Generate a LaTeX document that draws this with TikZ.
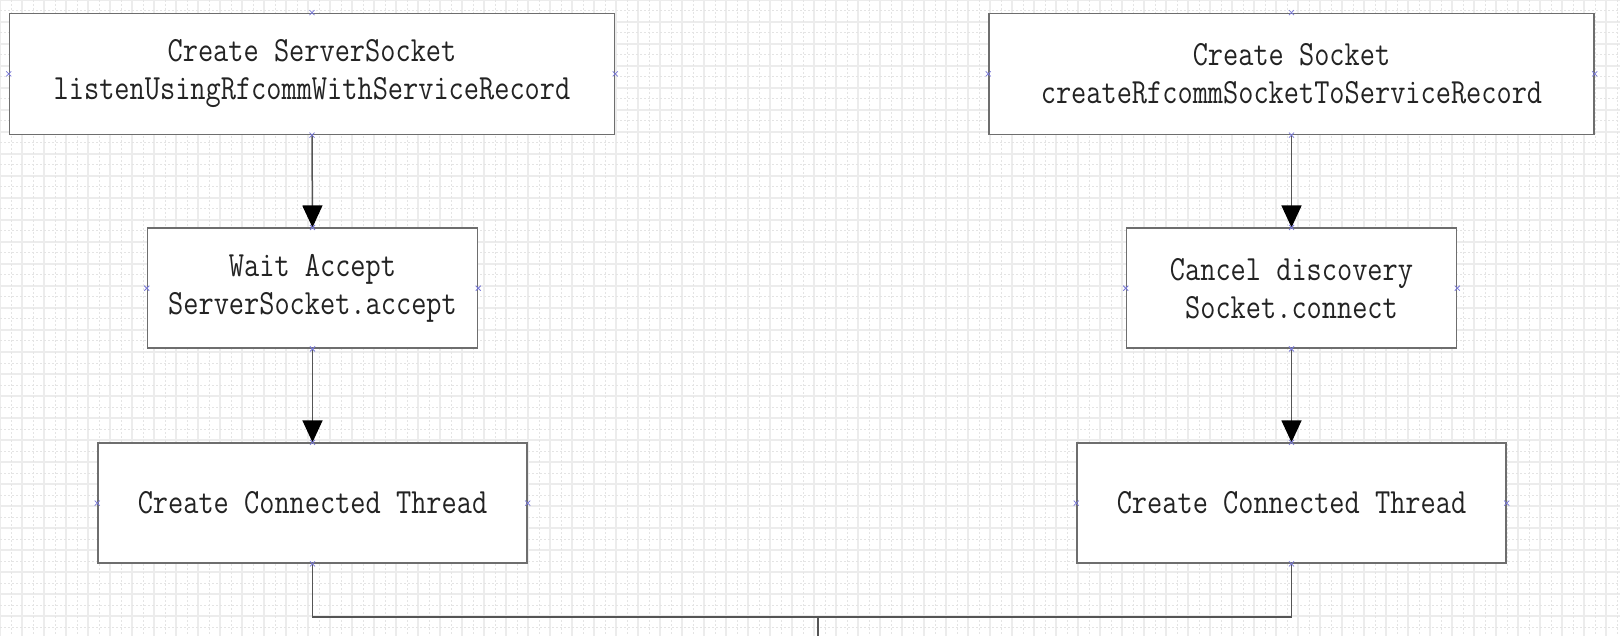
\documentclass[tikz,border=0pt]{standalone}
\usepackage{fontspec}
\usepackage{graphicx}
\usetikzlibrary{arrows.meta}
\definecolor{boxline}{RGB}{110,110,110}
\definecolor{connline}{RGB}{85,85,85}
\definecolor{txt}{RGB}{35,35,35}
\definecolor{gridsolid}{RGB}{236,236,236}
\definecolor{griddash}{RGB}{228,228,228}
\definecolor{pointmark}{RGB}{120,120,215}
\newcommand\myline[1]{\scalebox{1}[1.2]{#1}}
\tikzset{
  flowbox/.style={draw=boxline, line width=1.5pt, fill=white, inner sep=0pt,
    text=txt, align=center, font=\ttfamily\fontsize{29.5}{38}\selectfont},
  conn/.style={draw=connline, line width=1.5pt},
  arr/.style={conn, -{Triangle[width=20pt,length=22pt,black]}},
}
\begin{document}
\begin{tikzpicture}[x=1pt,y=-1pt]
\useasboundingbox (0,0) rectangle (1620,636);
\fill[white] (0,0) rectangle (1620,636);
% grid
\foreach \i in {0,22,...,1620} \draw[gridsolid, line width=1.2pt] (\i,0) -- (\i,636);
\foreach \i in {0,22,...,636} \draw[gridsolid, line width=1.2pt] (0,\i) -- (1620,\i);
\foreach \i in {11,33,...,1620} \draw[griddash, line width=1pt, dash pattern=on 2pt off 2pt] (\i,0) -- (\i,636);
\foreach \i in {11,33,...,636} \draw[griddash, line width=1pt, dash pattern=on 2pt off 2pt] (0,\i) -- (1620,\i);
% boxes
\node[flowbox, minimum width=605pt, minimum height=121pt] (A) at (312,73.9)
  {\myline{Create ServerSocket}\\\myline{listenUsingRfcommWithServiceRecord}};
\node[flowbox, minimum width=330pt, minimum height=120pt] (B) at (312.5,288.2)
  {\myline{Wait Accept}\\\myline{ServerSocket.accept}};
\node[flowbox, minimum width=429pt, minimum height=120pt] (C) at (312.5,503.1)
  {\myline{Create Connected Thread}};
\node[flowbox, minimum width=605pt, minimum height=121pt] (D) at (1291.5,73.9)
  {\myline{Create Socket}\\\myline{createRfcommSocketToServiceRecord}};
\node[flowbox, minimum width=330pt, minimum height=120pt] (E) at (1291.5,288.2)
  {\myline{Cancel discovery}\\\myline{Socket.connect}};
\node[flowbox, minimum width=429pt, minimum height=120pt] (F) at (1291.5,503.1)
  {\myline{Create Connected Thread}};
% connectors
\draw[arr] (A.south) -- (B.north);
\draw[arr] (B.south) -- (C.north);
\draw[arr] (D.south) -- (E.north);
\draw[arr] (E.south) -- (F.north);
\coordinate (J) at (818,616.8);
\coordinate (Jb) at (818,640);
\draw[conn] (C.south) |- (J) -| (F.south);
\draw[conn] (J) -- (Jb);
% connection point marks
\foreach \n in {A,B,C,D,E,F}
  \foreach \a in {north,south,east,west}
    \draw[pointmark, line width=0.8pt] ([shift={(-2.5,-2.5)}]\n.\a) -- ([shift={(2.5,2.5)}]\n.\a)
      ([shift={(-2.5,2.5)}]\n.\a) -- ([shift={(2.5,-2.5)}]\n.\a);
\end{tikzpicture}
\end{document}
